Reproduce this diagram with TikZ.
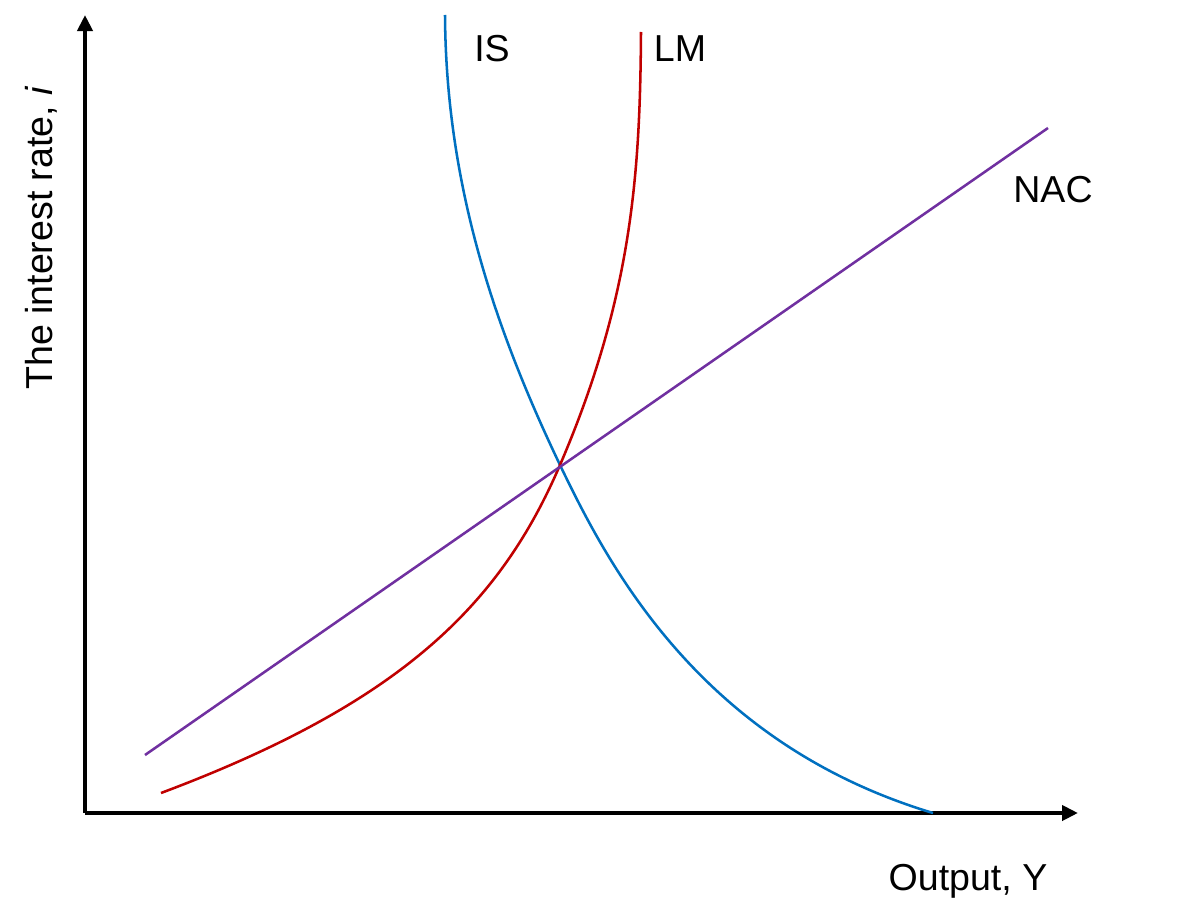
\documentclass[tikz,border=0pt]{standalone}
\usepackage{fontspec}
\setmainfont{Liberation Sans}
\usetikzlibrary{arrows.meta}
\definecolor{isblue}{RGB}{0,112,192}
\definecolor{lmred}{RGB}{192,0,0}
\definecolor{nacpurple}{RGB}{112,48,160}
\tikzset{
  axis/.style={line width=2.8pt, -{Triangle[length=0.4cm, width=0.375cm]}},
  curve/.style={line width=1.8pt},
  lbl/.style={font=\fontsize{26.7}{32}\selectfont, anchor=base, inner sep=0pt}
}
\begin{document}
\begin{tikzpicture}[x=0.025cm, y=-0.025cm]
            \useasboundingbox (0,0) rectangle (1204,919);
            \coordinate (o) at (85,813);
            \coordinate (ytip) at (85,15);
            \coordinate (xtip) at (1078,813);
            \coordinate (eq) at (560,465);

            % axes
            \draw[axis] (o) -- (ytip);
            \draw[axis] (o) -- (xtip);

            % curves
            \coordinate (istop) at (445,15);
            \coordinate (isend) at (933,813);
            \draw[curve, isblue] (istop) .. controls (446,190) and (498,335) .. (eq)
                .. controls (608,565) and (700,743) .. (isend);
            \coordinate (lmstart) at (161,793);
            \coordinate (lmtop) at (641,32);
            \draw[curve, lmred] (lmstart) .. controls (401,703) and (500,605) .. (eq)
                .. controls (633,295) and (640,170) .. (lmtop);
            \coordinate (nacstart) at (145,755);
            \coordinate (nacend) at (1048,128);
            \draw[curve, nacpurple] (nacstart) -- (nacend);

            % labels
            \node[lbl] (islbl) at (492,62) {IS};
            \node[lbl] (lmlbl) at (680,62) {LM};
            \node[lbl] (naclbl) at (1053,203) {NAC};
            \node[lbl] (xlbl) at (968,890) {Output, Y};
            \node[lbl, rotate=90] (ylbl) at (52,238) {The interest rate, \textit{i}};
        \end{tikzpicture}
\end{document}
